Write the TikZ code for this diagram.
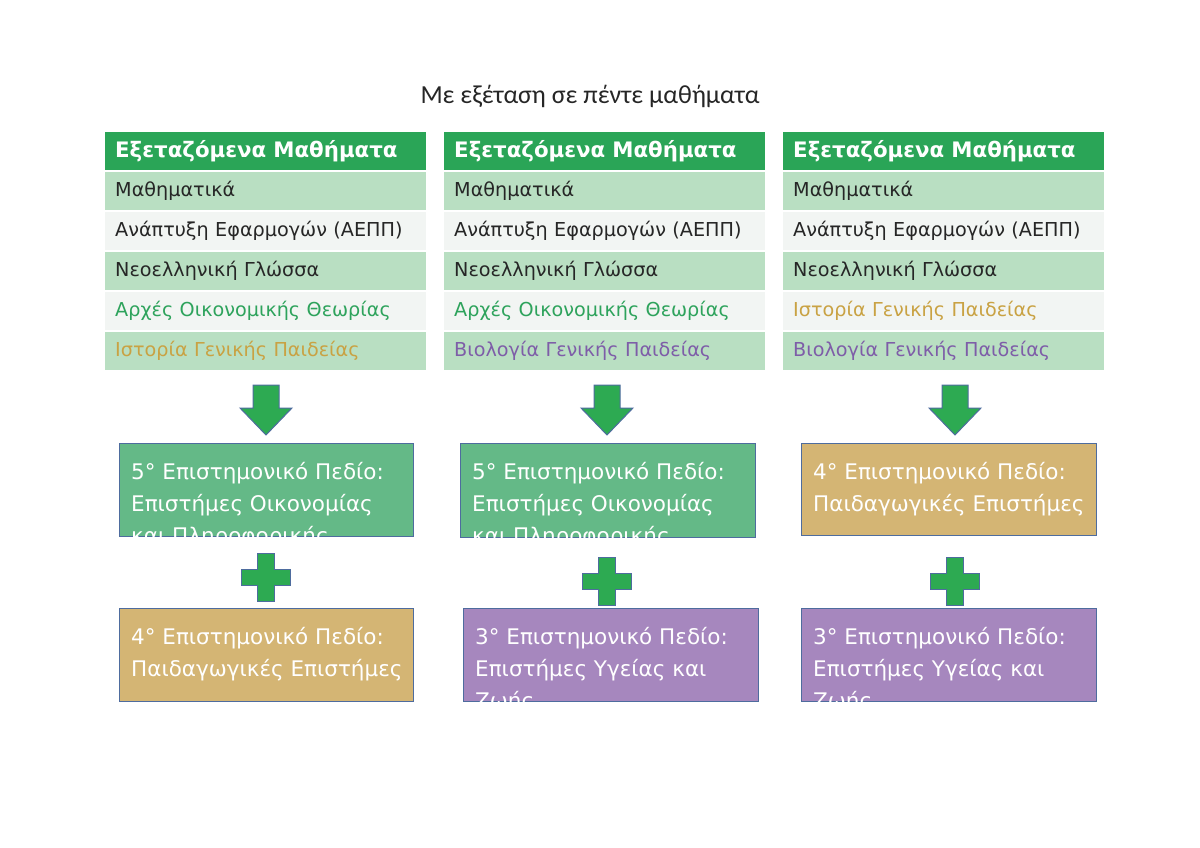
\documentclass[tikz,border=0pt]{standalone}
\usepackage{fontspec}
\setmainfont{DejaVu Sans}
\newfontfamily\titlefont{Carlito}
\usetikzlibrary{calc}
\definecolor{hdrgreen}{HTML}{2AA557}
\definecolor{rowgreen}{HTML}{B9DFC2}
\definecolor{rowwhite}{HTML}{F2F5F3}
\definecolor{txtdark}{HTML}{262626}
\definecolor{txtgreen}{HTML}{2EA35C}
\definecolor{txttan}{HTML}{C9A243}
\definecolor{txtpurple}{HTML}{7E5DA8}
\definecolor{boxgreen}{HTML}{64B987}
\definecolor{boxtan}{HTML}{D4B574}
\definecolor{boxpurple}{HTML}{A687BE}
\definecolor{edgeblue}{HTML}{4E6C9E}
\definecolor{shapegreen}{HTML}{2DAA52}
\tikzset{
  hdr/.style={fill=hdrgreen, text=white, anchor=north west, inner xsep=10pt, inner ysep=0pt,
    text width=301pt, align=left, minimum height=38pt, font=\fontsize{21.3}{24}\selectfont\bfseries},
  rowcell/.style={anchor=north west, inner xsep=10pt, inner ysep=0pt,
    text width=301pt, align=left, minimum height=38pt, font=\fontsize{19.2}{22}\selectfont},
  fieldbox/.style={draw=edgeblue, line width=1pt, anchor=north west, inner sep=0pt},
  fieldtext/.style={anchor=north west, inner sep=0pt, text=white, align=left,
    font=\fontsize{21.5}{32}\selectfont},
  blockshape/.style={fill=shapegreen, draw=edgeblue, line width=1pt, line join=miter}
}
\newcommand\subjtable[6]{%
  \node[hdr] (#1h) at (#2,132) {Εξεταζόμενα Μαθήματα};
  \node[rowcell, fill=rowgreen, text=txtdark] (#1r1) at (#2,172) {Μαθηματικά};
  \node[rowcell, fill=rowwhite, text=txtdark] (#1r2) at (#2,212) {Ανάπτυξη Εφαρμογών (ΑΕΠΠ)};
  \node[rowcell, fill=rowgreen, text=txtdark] (#1r3) at (#2,252) {Νεοελληνική Γλώσσα};
  \node[rowcell, fill=rowwhite, text=#4] (#1r4) at (#2,292) {#3};
  \node[rowcell, fill=rowgreen, text=#6] (#1r5) at (#2,332) {#5};
}
\newcommand\fieldnode[7]{%
  \node[fieldbox, fill=#6, minimum width=#4pt-#2pt, minimum height=#5pt-#3pt] (#1) at (#2,#3) {};
  \begin{scope}
    \clip ($(#1.north west)+(1,1)$) rectangle ($(#1.south east)+(-1,-1)$);
    \node[fieldtext] (#1t) at ($(#1.north west)+(12,19)$) {#7};
  \end{scope}
}
\newcommand\blockarrow[1]{%
  \draw[blockshape] (#1-13,385) -- (#1+13,385) -- (#1+13,408) -- (#1+26,408) -- (#1,435)
    -- (#1-26,408) -- (#1-13,408) -- cycle;
}
\newcommand\plusshape[2]{%
  \draw[blockshape] (#1-8.5,#2-24) -- (#1+8.5,#2-24) -- (#1+8.5,#2-8) -- (#1+24.5,#2-8)
    -- (#1+24.5,#2+8) -- (#1+8.5,#2+8) -- (#1+8.5,#2+24) -- (#1-8.5,#2+24) -- (#1-8.5,#2+8)
    -- (#1-24.5,#2+8) -- (#1-24.5,#2-8) -- (#1-8.5,#2-8) -- cycle;
}
\newcommand\greentext{5° Επιστημονικό Πεδίο:\\Επιστήμες Οικονομίας\\και Πληροφορικής}
\newcommand\tantext{4° Επιστημονικό Πεδίο:\\Παιδαγωγικές Επιστήμες}
\newcommand\purpletext{3° Επιστημονικό Πεδίο:\\Επιστήμες Υγείας και\\Ζωής}
\begin{document}
\begin{tikzpicture}[x=1pt,y=-1pt]
\useasboundingbox (0,0) rectangle (1200,848);
\fill[white] (0,0) rectangle (1200,848);
\node[font=\titlefont\fontsize{26}{30}\selectfont, text=txtdark] (title) at (590,96) {Με εξέταση σε πέντε μαθήματα};

\subjtable{a}{105}{Αρχές Οικονομικής Θεωρίας}{txtgreen}{Ιστορία Γενικής Παιδείας}{txttan}
\subjtable{b}{444}{Αρχές Οικονομικής Θεωρίας}{txtgreen}{Βιολογία Γενικής Παιδείας}{txtpurple}
\subjtable{c}{783}{Ιστορία Γενικής Παιδείας}{txttan}{Βιολογία Γενικής Παιδείας}{txtpurple}

\blockarrow{266}
\blockarrow{607}
\blockarrow{955}

\fieldnode{a1}{119}{443}{413}{536}{boxgreen}{\greentext}
\fieldnode{a2}{119}{608}{413}{701}{boxtan}{\tantext}
\fieldnode{b1}{460}{443}{755}{537}{boxgreen}{\greentext}
\fieldnode{b2}{463}{608}{758}{701}{boxpurple}{\purpletext}
\fieldnode{c1}{801}{443}{1096}{535}{boxtan}{\tantext}
\fieldnode{c2}{801}{608}{1096}{701}{boxpurple}{\purpletext}

\plusshape{266}{577}
\plusshape{607}{581}
\plusshape{955}{581}
\end{tikzpicture}
\end{document}
